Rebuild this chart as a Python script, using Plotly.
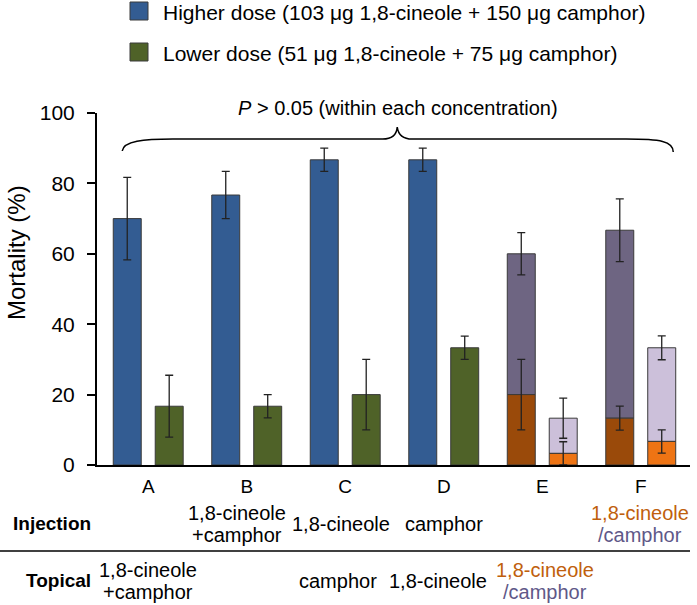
import plotly.graph_objects as go

# ---------------- data ----------------
categories = ["A", "B", "C", "D", "E", "F"]
higher_total = [70.0, 76.7, 86.7, 86.7, 60.0, 66.7]
higher_err = [11.7, 6.7, 3.3, 3.3, 6.0, 8.9]
lower_total = [16.7, 16.7, 20.0, 33.3, 13.3, 33.3]
lower_err = [8.8, 3.3, 10.0, 3.3, 5.7, 3.4]

# groups E and F: mortality split into 1,8-cineole part (bottom) and camphor part (top)
split_groups = ["E", "F"]
higher_cineole = [20.0, 13.3]
higher_cineole_err = [10.0, 3.4]
lower_cineole = [3.3, 6.7]
lower_cineole_err = [3.3, 3.3]

legend_labels = [
    "Higher dose (103 \u03bcg 1,8-cineole + 150 \u03bcg camphor)",
    "Lower dose (51 \u03bcg 1,8-cineole + 75 \u03bcg camphor)",
]
injection_labels = ["", "1,8-cineole|+camphor", "1,8-cineole", "camphor", "", "1,8-cineole|/camphor"]
topical_labels = ["1,8-cineole|+camphor", "", "camphor", "1,8-cineole", "1,8-cineole|/camphor", ""]
p_text = "<i>P</i> > 0.05 (within each concentration)"

# ---------------- styles ----------------
FONT = "Liberation Sans, Arial, sans-serif"
C_BLUE = "#335C92"
C_GREEN = "#4F6228"
C_DKORANGE = "#9A4A0A"
C_ORANGE = "#EE7414"
C_DKPURPLE = "#6E6582"
C_LTPURPLE = "#CCC0DA"
C_TXT_OR = "#C0600C"
C_TXT_PU = "#5F5888"
OUTLINE = dict(color="#3a3a3a", width=1)

W, H = 697, 605
ML, MR, MT, MB = 97, 7, 113, 140
PW, PH = W - ML - MR, H - MT - MB


def px(xp):
    return (xp - ML) / PW


def py(yp):
    return (H - MB - yp) / PH


OFF, BW = 0.213, 0.284
plain = [i for i, c in enumerate(categories) if c not in split_groups]
split = [categories.index(c) for c in split_groups]


def err(arr):
    return dict(type="data", array=arr, visible=True, color="#222222", thickness=1.3, width=4)


fig = go.Figure()
fig.add_trace(go.Bar(x=[i - OFF for i in plain], y=[higher_total[i] for i in plain], width=BW,
                     marker=dict(color=C_BLUE, line=OUTLINE), error_y=err([higher_err[i] for i in plain]),
                     name=legend_labels[0]))
fig.add_trace(go.Bar(x=[i + OFF for i in plain], y=[lower_total[i] for i in plain], width=BW,
                     marker=dict(color=C_GREEN, line=OUTLINE), error_y=err([lower_err[i] for i in plain]),
                     name=legend_labels[1]))
# camphor part (top segments)
fig.add_trace(go.Bar(x=[i - OFF for i in split],
                     y=[higher_total[i] - c for i, c in zip(split, higher_cineole)], base=higher_cineole,
                     width=BW, marker=dict(color=C_DKPURPLE, line=OUTLINE),
                     error_y=err([higher_err[i] for i in split])))
fig.add_trace(go.Bar(x=[i + OFF for i in split],
                     y=[lower_total[i] - c for i, c in zip(split, lower_cineole)], base=lower_cineole,
                     width=BW, marker=dict(color=C_LTPURPLE, line=OUTLINE),
                     error_y=err([lower_err[i] for i in split])))
# 1,8-cineole part (bottom segments)
fig.add_trace(go.Bar(x=[i - OFF for i in split], y=higher_cineole, width=BW,
                     marker=dict(color=C_DKORANGE, line=OUTLINE), error_y=err(higher_cineole_err)))
fig.add_trace(go.Bar(x=[i + OFF for i in split], y=lower_cineole, width=BW,
                     marker=dict(color=C_ORANGE, line=OUTLINE), error_y=err(lower_cineole_err)))

annotations = []
shapes = []

# legend (manual)
for k, (lab, col) in enumerate(zip(legend_labels, [C_BLUE, C_GREEN])):
    yc = [11, 52][k]
    shapes.append(dict(type="rect", xref="paper", yref="paper", x0=px(130), x1=px(148),
                       y0=py(yc - 9), y1=py(yc + 9), fillcolor=col, line=dict(color="#3a3a3a", width=1)))
    annotations.append(dict(xref="paper", yref="paper", x=px(161), y=py(yc + 1), text=lab, showarrow=False,
                            xanchor="left", yanchor="middle", font=dict(size=21, color="black", family=FONT)))

# brace + P text
brace = ("M -0.264,89.2 C -0.25,92.0 -0.05,92.6 0.25,92.6 L 2.38,92.6 "
         "C 2.46,92.6 2.52,93.5 2.528,96.0 C 2.54,93.5 2.60,92.6 2.68,92.6 "
         "L 4.85,92.6 C 5.2,92.6 5.33,92.0 5.33,88.9")
shapes.append(dict(type="path", xref="x", yref="y", path=brace, line=dict(color="black", width=1.5)))
annotations.append(dict(xref="paper", yref="paper", x=px(398), y=py(108), text=p_text, showarrow=False,
                        xanchor="center", yanchor="middle", font=dict(size=20, color="black", family=FONT)))

# y-axis title
annotations.append(dict(xref="paper", yref="paper", x=px(16), y=py(253), text="Mortality (%)", textangle=-90,
                        showarrow=False, xanchor="center", yanchor="middle",
                        font=dict(size=24, color="black", family=FONT)))

# table below
annotations.append(dict(xref="paper", yref="paper", x=px(93), y=py(523), text="<b>Injection</b>", showarrow=False,
                        xanchor="right", yanchor="middle", font=dict(size=19, color="black", family=FONT)))
annotations.append(dict(xref="paper", yref="paper", x=px(93), y=py(580), text="<b>Topical</b>", showarrow=False,
                        xanchor="right", yanchor="middle", font=dict(size=19, color="black", family=FONT)))
shapes.append(dict(type="line", xref="paper", yref="paper", x0=px(0), x1=1.0, y0=py(551), y1=py(551),
                   line=dict(color="black", width=1.5)))

inj_x = [148, 237, 341, 444, 542, 640]
top_x = [148, 247, 338, 438, 545, 640]


def add_cell(label, xc, yc):
    if not label:
        return
    lines = label.split("|")
    if len(lines) == 1:
        annotations.append(dict(xref="paper", yref="paper", x=px(xc), y=py(yc), text=lines[0], showarrow=False,
                                xanchor="center", yanchor="middle", font=dict(size=20, color="black", family=FONT)))
        return
    colored = lines[1].startswith("/")
    cols = [C_TXT_OR, C_TXT_PU] if colored else ["black", "black"]
    for j, (t, col) in enumerate(zip(lines, cols)):
        annotations.append(dict(xref="paper", yref="paper", x=px(xc), y=py(yc - 11 + 22 * j), text=t,
                                showarrow=False, xanchor="center", yanchor="middle",
                                font=dict(size=20, color=col, family=FONT)))


for i in range(len(categories)):
    add_cell(injection_labels[i], inj_x[i], 524)
    add_cell(topical_labels[i], top_x[i], 581)

fig.update_layout(
    width=W, height=H, margin=dict(l=ML, r=MR, t=MT, b=MB, autoexpand=False),
    barmode="overlay", showlegend=False,
    plot_bgcolor="white", paper_bgcolor="white",
    font=dict(family=FONT, color="black"),
    annotations=annotations, shapes=shapes,
    xaxis=dict(range=[-0.52, 5.5], tickmode="array", tickvals=list(range(len(categories))), ticktext=categories,
               showline=True, linecolor="black", linewidth=2, ticks="", showgrid=False, zeroline=False,
               tickfont=dict(size=19, color="black", family=FONT), ticklabelstandoff=3, fixedrange=True),
    yaxis=dict(range=[0, 100], dtick=20, showline=True, linecolor="black", linewidth=2, ticks="outside",
               ticklen=8, tickwidth=2, tickcolor="black", showgrid=False, zeroline=False,
               tickfont=dict(size=21, color="black", family=FONT), ticklabelstandoff=8, fixedrange=True),
)

fig.write_html(
    "out.html",
    config={"displayModeBar": False},
    post_script="document.body.style.margin='0';document.body.style.overflow='hidden';",
)
